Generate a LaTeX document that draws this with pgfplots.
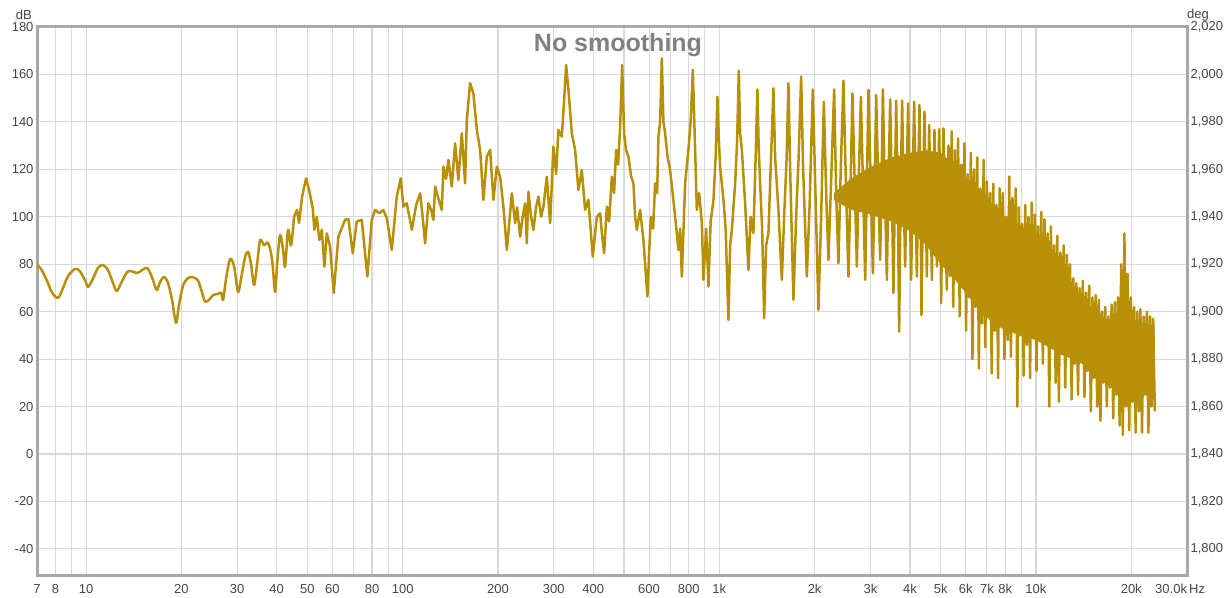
\documentclass[border=0pt]{standalone}
\usepackage{pgfplots}
\pgfplotsset{compat=1.18}
\usepgfplotslibrary{fillbetween}
\usepackage{fontspec}
\setmainfont{Liberation Sans}
\definecolor{rew}{RGB}{184,144,8}
\definecolor{gridc}{RGB}{216,216,216}
\definecolor{framec}{RGB}{168,168,168}
\definecolor{labc}{RGB}{70,70,70}
\definecolor{titlec}{RGB}{128,128,128}
\newcommand{\tf}{\fontsize{13}{14}\selectfont}
\begin{document}
\begin{tikzpicture}
\begin{axis}[
 name=main,
 scale only axis, width=1150pt, height=548pt,
 xmode=log, xmin=7, xmax=30000, ymin=-51, ymax=180,
 xtick={7,8,10,20,30,40,50,60,80,100,200,300,400,600,800,1000,2000,3000,4000,5000,6000,7000,8000,10000,20000,30000},
 xticklabels={7,8,10,20,30,40,50,60,80,100,200,300,400,600,800,1k,2k,3k,4k,5k,6k,7k,8k,10k,20k,{\llap{30.0k}\rlap{\,Hz}}},
 minor xtick={9,70,90,500,700,900,9000},
 ytick={-40,-20,0,20,40,60,80,100,120,140,160,180},
 grid=both,
 major grid style={gridc, line width=1.1pt},
 minor grid style={gridc, line width=1.1pt},
 major tick length=0pt, minor tick length=0pt,
 axis line style={framec, line width=3pt},
 tick label style={font=\tf, text=labc},
 /pgf/number format/assume math mode=true,
 xticklabel style={yshift=-6pt},
]
% core band of the dense high-frequency part
\addplot[draw=none, name path=cu] coordinates {(2300,110) (2600,116) (3000,121) (3500,125) (4000,127) (4500,128) (5000,127) (5500,122) (6000,117) (6500,112) (7200,106) (8000,100) (9000,96) (10000,92) (11000,88) (12000,82) (13000,72) (14000,66) (15500,60) (17000,56) (18300,60) (18800,72) (19300,66) (20000,57) (22000,55) (23700,54)};
\addplot[draw=none, name path=cl] coordinates {(2300,107) (2600,103) (3000,101) (3500,98) (4000,94) (4500,88) (5000,80) (5500,74) (6000,68) (6500,62) (7200,56) (8000,52) (9000,50) (10000,48) (11000,45) (12000,42) (13000,40) (14000,38) (15500,34) (17000,30) (18300,28) (18800,26) (19300,26) (20000,26) (22000,26) (23700,26)};
\addplot[rew, draw=none] fill between[of=cu and cl];
% low-frequency part
\addplot[rew, line width=2.5pt, smooth, line join=round] coordinates {
(7.0,79.5) (7.21,78) (7.53,73) (7.81,68) (8.16,65.8) (8.46,70) (8.77,75) (9.23,78) (9.57,77) (9.98,72.5) (10.15,70.4) (10.52,74) (10.91,78.5) (11.3,79.7) (11.73,77.5) (12.17,72) (12.5,68.7) (12.9,72) (13.5,76.8) (13.97,77) (14.5,76.3) (15.03,77.5) (15.6,78.4) (16.16,74.5) (16.7,69.2) (17.13,72.5) (17.64,74.6) (18.16,72) (18.69,65) (19.24,55.3) (19.67,63) (20.25,71) (21.0,74.2) (21.78,74.5) (22.59,73) (23.25,68) (23.76,64.2) (24.46,65) (25.2,67) (26.12,67.5) (26.7,68) (27.09,65) (27.69,74) (28.5,82.2) (29.35,79) (30.2,68.3) (30.88,74) (31.79,83) (32.49,85.2) (33.2,80) (33.94,71.3) (34.69,80) (35.45,90.2) (36.5,88) (37.58,89) (38.69,82) (39.54,68.3) (40.12,80) (41.0,92.3) (41.9,86) (42.52,79) (43.45,94.5) (44.41,88) (45.39,100)};
% rest of the response
\addplot[rew, line width=2.5pt, line join=round] coordinates {
(45.39,100) (46.39,102.9) (47.07,97.4) (48.11,108.5) (49.53,116.2) (50.63,111.3) (52.0,103.6) (52.6,94.5) (53.55,100) (54.57,90.2) (55.53,94.5) (56.58,79) (57.58,93) (58.98,87.4) (60.58,67.9) (62.64,91.6) (65.78,98.7) (67.38,99) (69.57,84.6) (71.61,98) (74.27,98.7) (77.36,74.8) (79.88,98.7) (81.82,102.9) (84.43,101.5) (86.9,102.9) (89.07,99.4) (92.37,86) (95.79,108.5) (98.6,116.2) (100.5,104.3) (103.0,105.7) (106.9,94.5) (110.3,105) (113.5,109.9) (115.6,100) (117.7,88.8) (120.6,105.7) (122.9,103) (125.0,98.7) (126.6,112.7) (129.4,108) (132.9,102.9) (134.5,121.1) (137.1,116) (139.5,124) (142.9,112.7) (146.4,131) (149.9,115.5) (153.7,135.2) (157.4,114.1) (159.4,140.8) (163.3,156.3) (167.2,152) (171.5,136.6) (175.6,128.2) (179.9,107.1) (184.4,125.4) (188.9,128.2) (193.4,107.1) (198.3,121.1) (203.1,116.9) (208.0,104.3) (213.3,86) (221.2,109.9) (226.5,97.3) (229.8,104) (234.9,91.6) (239.2,100) (243.6,105.7) (246.6,88.8) (249.5,110.6) (254.4,100) (258.7,94.5) (263.8,104) (268.3,108.5) (273.6,100) (278.3,104.3) (285.2,116.9) (292.2,97.3) (299.2,129.6) (305.2,118) (310.3,136.6) (318.1,133.8) (323.5,149.2) (328.2,164) (333.8,153.5) (342.1,135.2) (350.4,128.2) (358.9,111.3) (367.9,119.7) (376.8,102.9) (385.9,107.1) (392.2,95) (398.5,83.2) (410.3,100) (420.3,101.5) (426.5,92) (432.7,84.6) (441.4,104.3) (448.7,98) (457.7,116.9) (465.3,110) (472.1,128.2) (479.0,122) (486.1,138) (493.2,164) (500.4,135.2) (507.7,128) (516.4,125.4) (526.6,117) (535.5,114.1) (542.1,100) (548.9,94.5) (562.2,102.9) (575.9,90.2) (584.3,78) (592.9,66.4) (600.3,85) (607.7,100) (618,95) (627,114.1) (636.3,110) (642.3,133.8) (650.2,140) (658.3,166.8) (666,140) (674.3,135.2) (686.7,125) (699.3,119.7) (712.1,110) (725.2,100) (743,86) (752.1,95) (761.5,74.8) (779.9,114.1) (798.8,128.2) (811.6,140) (824.8,161.9) (838.7,128.2) (849,102.9) (863.7,110) (880.8,97.3) (891.1,73.4) (908.7,95) (924.1,70.6) (938.9,98) (958.3,107.1) (973.4,125) (986.3,150.6) (998.6,130) (1005.8,121.1) (1030.4,107.1) (1047,95) (1068.6,56.5) (1081.9,88) (1095.4,94.5) (1122,114.1) (1136.7,130) (1152.5,161.6) (1163.4,135) (1178,128.2) (1206.5,105.7) (1235.8,77.6) (1255.7,100) (1281.4,93.1) (1302.2,125) (1319.4,153.7) (1331,130) (1345.5,114.1) (1365.2,95) (1385.2,57.2) (1405.6,88) (1429.2,93.1) (1452.4,120) (1482.2,154.2) (1500.7,125) (1537.1,102.9) (1575.5,73.4) (1602.2,100) (1631.6,125) (1653.2,156.3) (1673.9,120) (1714.5,65) (1748.4,100) (1780.5,125) (1813.2,159.1) (1839.7,120) (1889.9,74.8) (1928.6,105) (1974,153.7) (2007.4,115) (2056.1,60.7) (2097.1,100) (2138.6,148.5) (2174.9,110) (2211.2,81.8) (2255,115) (2304.8,153.7) (2338.5,110) (2378.1,80.4) (2416.2,118) (2466.2,157.4) (2515.1,110) (2557.7,74.8) (2598.7,115) (2633,152) (2675.8,115) (2718.9,79) (2754.9,115) (2799.6,150.6) (2846.6,110) (2888.8,73.4) (2924.3,115) (2958.8,153.5) (3006.2,115) (3054.9,76.2) (3090.4,110) (3129,151.3) (3174.7,115) (3221.1,81.8) (3256.9,118) (3284.8,153.7) (3333.6,110) (3382.4,73.4) (3421.6,115) (3464.4,149.5) (3507.7,110) (3548.3,67.8) (3584.4,110) (3618.4,149) (3658.6,110) (3698.4,51.6) (3738.7,110) (3779.9,149) (3821,110) (3863.4,79) (3905.4,115) (3948.1,147.8) (3991.9,110) (4035.4,73.4) (4080.2,115) (4124.6,148.5) (4163.7,110) (4206.1,74.8) (4246,115) (4286.3,147.1) (4317.9,110) (4349.8,58.6) (4397.1,110) (4445,144.3) (4484,110) (4523.4,74.8) (4560,110) (4600,138.7) (4643.6,110) (4690.9,73.4) (4735.4,110) (4780.3,136.6) (4822.3,110) (4864.7,79) (4904.1,110) (4947.2,136.9) (4982.6,110) (5019.4,63.6) (5063.5,110) (5104.5,137.3) (5168.4,100) (5231.8,69.2)
(5293,130) (5355,75) (5418,136) (5481,62) (5545,128) (5610,80) (5676,133) (5742,58) (5809,122) (5877,70) (5946,131) (6016,52) (6086,118) (6157,66) (6229,127) (6302,40) (6376,120) (6451,62) (6526,125) (6603,36) (6680,112) (6758,55) (6837,124) (6917,45) (6998,115) (7080,60) (7163,110) (7247,34) (7332,114) (7418,52) (7505,105) (7593,32) (7682,112) (7772,58) (7863,110) (7955,40) (8048,100) (8142,48) (8237,117) (8333,41) (8431,108) (8530,55) (8630,112) (8731,20) (8833,104) (8936,50) (9041,97) (9147,33) (9254,105) (9362,46) (9472,100) (9583,32) (9695,106) (9808,55) (9923,101) (10039,35) (10156,96) (10275,48) (10395,102) (10517,38) (10640,99) (10764,52) (10890,93) (11017,20) (11146,96) (11276,45) (11408,88) (11541,30) (11676,92) (11813,22) (11951,85) (12091,42) (12232,88) (12375,28) (12520,84) (12666,45) (12814,80) (12964,23) (13116,74) (13269,38) (13424,72) (13581,25) (13740,70) (13901,40) (14064,73) (14228,24) (14395,68) (14563,35) (14733,71) (14905,18) (15080,66) (15256,32) (15435,67) (15615,20) (15798,65) (15983,14) (16170,60) (16359,30) (16550,62) (16744,20) (16940,58) (17138,28) (17338,63) (17541,15) (17746,64) (17954,25) (18164,66) (18376,12) (18591,80) (18809,8) (19029,93) (19251,20) (19476,76) (19704,10) (19935,66) (20168,22) (20404,62) (20643,9) (20884,60) (21128,18) (21375,61) (21625,9) (21878,58) (22134,25) (22393,60) (22655,9) (22920,58) (23188,20) (23459,57) (23733,18)};
\end{axis}
\begin{axis}[
 scale only axis, width=1150pt, height=548pt,
 xmode=log, xmin=7, xmax=30000, ymin=1789, ymax=2020,
 axis x line=none, axis y line*=right,
 axis line style={draw=none},
 ytick={1800,1820,1840,1860,1880,1900,1920,1940,1960,1980,2000,2020},
 major tick length=0pt,
 tick label style={font=\tf, text=labc},
 /pgf/number format/assume math mode=true,
 yticklabel style={/pgf/number format/1000 sep={,}},
]
\end{axis}
\node[anchor=base, inner sep=0pt, font=\bfseries\fontsize{25}{25}\selectfont, text=titlec] at (581pt,523pt) {No smoothing};
\node[anchor=base east, inner sep=0pt, font=\tf, text=labc] at (-5pt,555.5pt) {dB};
\node[anchor=base west, inner sep=0pt, font=\tf, text=labc] at (1150pt,556.5pt) {deg};
\pgfresetboundingbox
\path[use as bounding box] (-37pt,-22pt) rectangle (1191pt,575pt);
\end{tikzpicture}
\end{document}
